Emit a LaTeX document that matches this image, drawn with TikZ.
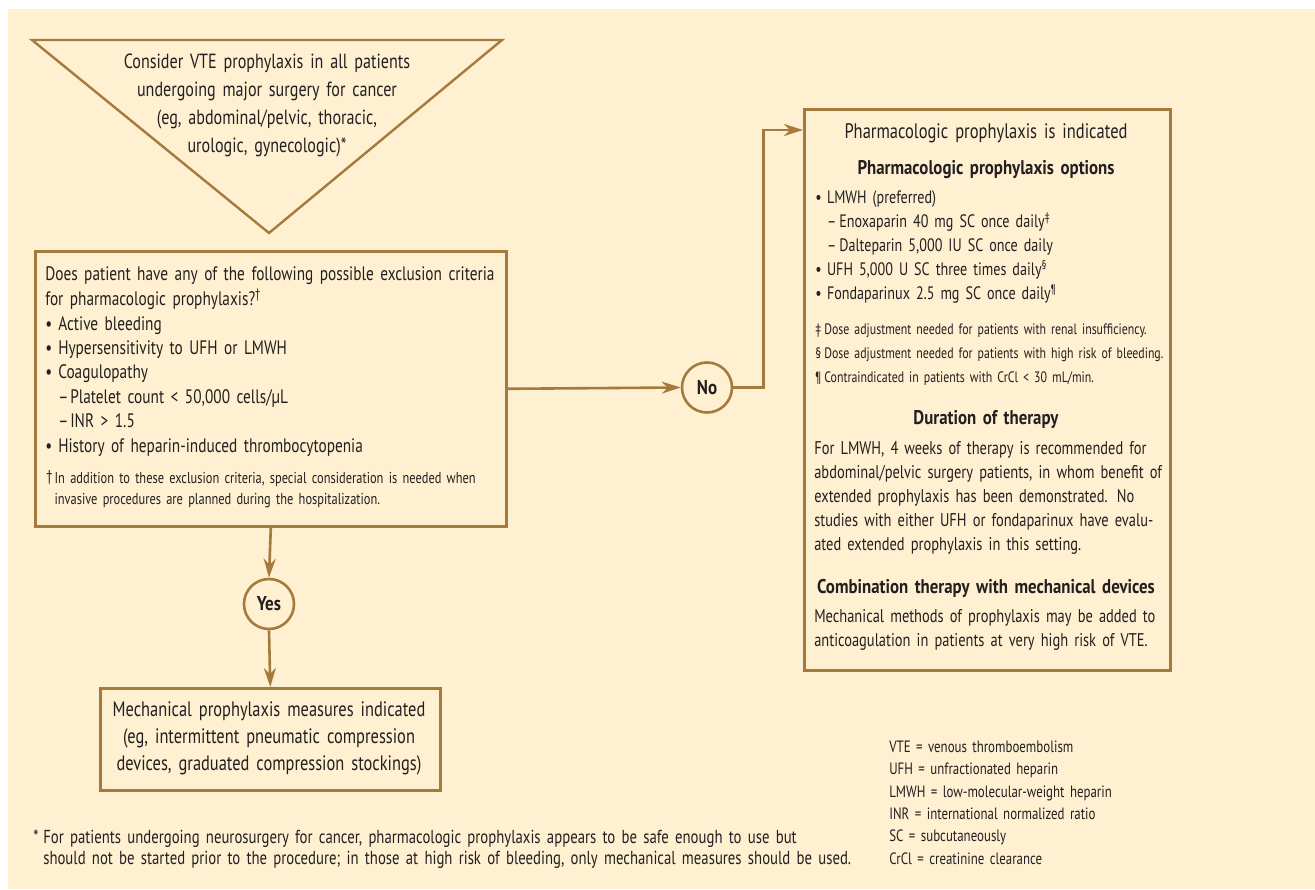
\documentclass[tikz,border=0pt]{standalone}
\usepackage{fontspec}
\setmainfont{PT Sans}[FakeStretch=0.785, WordSpace=0.55]
\newfontfamily\headfont{PT Sans}[FakeStretch=0.85, WordSpace=0.55]
\usetikzlibrary{arrows.meta,positioning}

\definecolor{cream}{RGB}{254,240,209}
\definecolor{rim}{RGB}{164,123,61}
\definecolor{ink}{RGB}{35,31,32}

\newcommand{\blt}{\makebox[13pt][l]{•}}
\newcommand{\dsh}{\hspace*{13pt}\makebox[12pt][l]{–}}
\newcommand{\rblt}{\makebox[11.7pt][l]{•}}
\newcommand{\rdsh}{\hspace*{11.7pt}\makebox[12.3pt][l]{–}}

\begin{document}
\begin{tikzpicture}[x=1pt, y=-1pt, line width=2.6pt,
	box/.style={draw=rim, rectangle, inner sep=0pt},
	knot/.style={draw=rim, circle, fill=cream, minimum size=50pt, inner sep=0pt, text=ink, font=\fontsize{20}{24}\selectfont\headfont\bfseries},
	arr/.style={draw=rim, -{Stealth[length=19pt,width=12pt,inset=6pt]}},
	txt/.style={inner sep=0pt, text=ink, text width=1200pt, align=left, anchor=north west},
	ctxt/.style={inner sep=0pt, text=ink, text width=480pt, align=center, anchor=north},
	head/.style={ctxt, font=\fontsize{19.8}{24}\selectfont\headfont\bfseries}]

	\useasboundingbox (0,0) rectangle (1315,890);
	\fill[cream] (8,9) rectangle (1315,889);

	\draw[rim, line width=2.4pt, line join=miter] (32,40) -- (502,40) -- (269,233) -- cycle;
	\node[ctxt, font=\fontsize{20.5}{28.2}\selectfont] (tri) at (267,47.3) {\strut Consider VTE prophylaxis in all patients\\
		undergoing major surgery for cancer\\
		(eg, abdominal/pelvic, thoracic,\\
		urologic, gynecologic)*};

	\node[box, minimum width=471pt, minimum height=275pt, anchor=north west] (excl) at (34,250) {};
	\node[txt, font=\fontsize{19.5}{24.4}\selectfont] (crit) at (44,261.9) {\strut Does patient have any of the following possible exclusion criteria\\
		for pharmacologic prophylaxis?\textsuperscript{†}\\
		\blt Active bleeding\\
		\blt Hypersensitivity to UFH or LMWH\\
		\blt Coagulopathy\\
		\dsh Platelet count < 50,000 cells/µL\\
		\dsh INR > 1.5\\
		\blt History of heparin-induced thrombocytopenia};
	\node[txt, font=\fontsize{15.8}{21}\selectfont] (dagger) at (45,467.8) {\strut\makebox[8.3pt][l]{\raisebox{2pt}{†}}In addition to these exclusion criteria, special consideration is needed when\\
		\hspace*{8.3pt}invasive procedures are planned during the hospitalization.};

	\node[knot] (yes) at (269,604) {Yes};
	\node[knot] (no) at (707,387.5) {No};

	\node[box, minimum width=340pt, minimum height=102pt, anchor=north west] (mech) at (99,687) {};
	\node[ctxt, font=\fontsize{20.9}{27}\selectfont] (mechtxt) at (269,696.1) {\strut Mechanical prophylaxis measures indicated\\
		(eg, intermittent pneumatic compression\\
		devices, graduated compression stockings)};

	\node[box, minimum width=366pt, minimum height=561pt, anchor=north west] (opt) at (803,108) {};
	\begin{scope}[every node/.style={font=\fontsize{18}{24}\selectfont}]
		\node[ctxt, font=\fontsize{21}{24}\selectfont] (title) at (986,120.2) {\strut Pharmacologic prophylaxis is indicated};
		\node[head] (head1) at (986,156.2) {\strut Pharmacologic prophylaxis options};
		\node[txt] (drugs) at (814,185.2) {\strut\rblt LMWH (preferred)\\
			\rdsh Enoxaparin 40 mg SC once daily\textsuperscript{‡}\\
			\rdsh Dalteparin 5,000 IU SC once daily\\
			\rblt UFH 5,000 U SC three times daily\textsuperscript{§}\\
			\rblt Fondaparinux 2.5 mg SC once daily\textsuperscript{¶}};
		\node[txt, font=\fontsize{15.1}{24}\selectfont] (notes) at (814,316.2) {\strut\makebox[9pt][l]{‡}Dose adjustment needed for patients with renal insufficiency.\\
			\makebox[9pt][l]{§}Dose adjustment needed for patients with high risk of bleeding.\\
			\makebox[9pt][l]{¶}Contraindicated in patients with CrCl < 30 mL/min.};
		\node[head] (head2) at (986,406.2) {\strut Duration of therapy};
		\node[txt, font=\fontsize{18.4}{24}\selectfont] (dur) at (813,436.2) {\strut For LMWH, 4 weeks of therapy is recommended for\\
			abdominal/pelvic surgery patients, in whom benefit of\\
			extended prophylaxis has been demonstrated. No\\
			studies with either UFH or fondaparinux have evalu-\\
			ated extended prophylaxis in this setting.};
		\node[head] (head3) at (986,575.2) {\strut Combination therapy with mechanical devices};
		\node[txt, font=\fontsize{18.4}{24}\selectfont] (comb) at (813,604.2) {\strut Mechanical methods of prophylaxis may be added to\\
			anticoagulation in patients at very high risk of VTE.};
	\end{scope}

	\node[txt, font=\fontsize{16.4}{22.4}\selectfont] (abbr) at (888,735.3) {\strut VTE = venous thromboembolism\\
		UFH = unfractionated heparin\\
		LMWH = low-molecular-weight heparin\\
		INR = international normalized ratio\\
		SC = subcutaneously\\
		CrCl = creatinine clearance};
	\node[txt, font=\fontsize{18.8}{21.5}\selectfont] (star) at (32,826.9) {\strut\makebox[10pt][l]{*}For patients undergoing neurosurgery for cancer, pharmacologic prophylaxis appears to be safe enough to use but\\
		\hspace*{10pt}should not be started prior to the procedure; in those at high risk of bleeding, only mechanical measures should be used.};

	\draw[arr] (excl.south) -- (yes.north);
	\draw[arr] (yes.south) -- (mech.north);
	\draw[arr] (excl.east) -- (no.west);
	\draw[arr] (no.east) -- ++(30,0) |- ([yshift=-22pt]opt.north west);

\end{tikzpicture}
\end{document}
